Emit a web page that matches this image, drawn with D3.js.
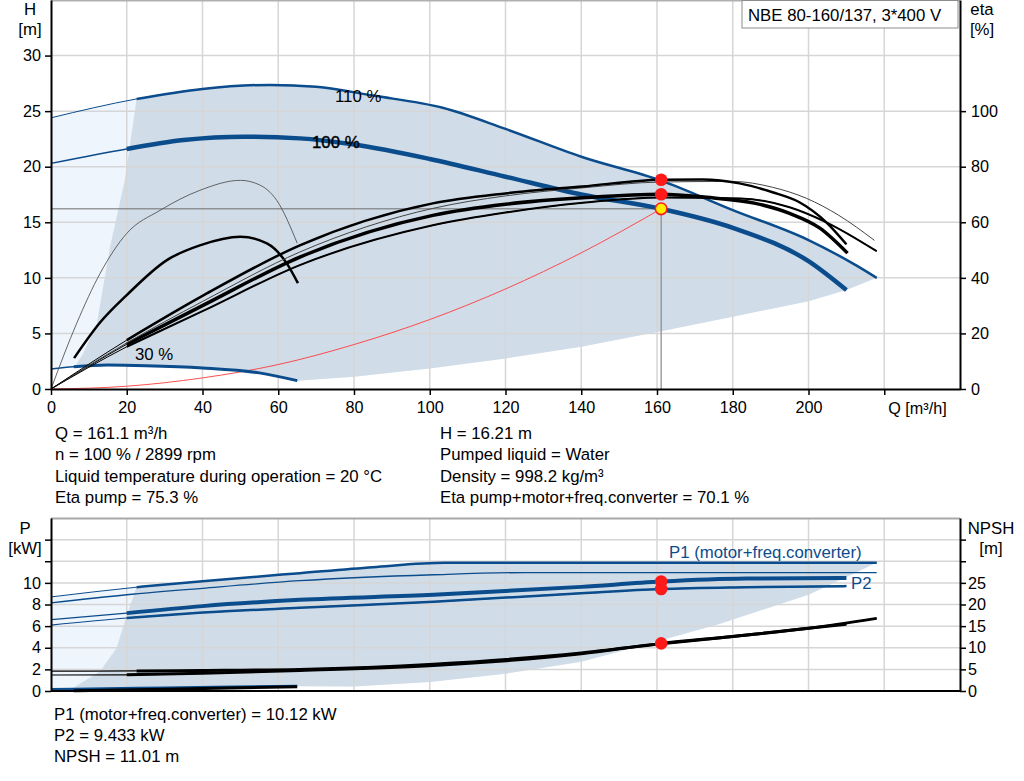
<!DOCTYPE html>
<html>
<head>
<meta charset="utf-8">
<script src="https://cdn.jsdelivr.net/npm/d3@7/dist/d3.min.js"></script>
<style>
body { margin: 0; background: #fff; }
svg { display: block; font-family: "Liberation Sans", Arial, sans-serif; }
</style>
</head>
<body>
<svg id="chart" width="1024" height="781"></svg>
<script>
/* curves, pairs of [Q m3/h, value] */
const h110 = [[0,24.4],[22.6,26.1],[40,27.0],[57.8,27.36],[70,27.2],[85,26.4],[103.4,25.3],[120,23.4],[140,20.9],[161.1,18.75],[180,16.1],[200,13.4],[212.7,11.1],[218,10.0]];
const h100 = [[0,20.3],[20,21.6],[35,22.4],[51,22.7],[65.7,22.55],[80,22.0],[100,20.7],[120,19.1],[140,17.5],[161.1,16.21],[180,14.5],[200,11.5],[210,8.9]];
const h30 = [[0,1.8],[6,2.0],[15,2.15],[25,2.1],[40,1.9],[55,1.45],[65,0.75]];

const etaPump100 = [[0,0],[20,17.6],[40,33.5],[65.7,51.7],[100.8,66.8],[120,70.4],[140.4,72.9],[161.1,75.3],[172,75.4],[181.8,74.0],[190.5,70.8],[197.6,67.2],[204.7,60.0],[210,52.1]];
const etaPump110 = [[0,0],[20,16.6],[40,31.5],[65.7,49.3],[100.8,65.0],[120,69.5],[140.4,72.4],[161.1,74.5],[180,74.7],[190.5,72.6],[199.5,68.6],[208,62.5],[217.4,53.5]];
const etaTot100 = [[0,0],[20,16.1],[40,30],[65.7,47.5],[100.8,62.5],[120,66.5],[140.4,68.8],[161.1,70.1],[173,69.0],[186,66.8],[195,63.2],[203,57.9],[210.3,48.9]];
const etaTot110 = [[0,0],[20,15.2],[40,28],[65.7,44.6],[100.8,58.9],[120,63.5],[140.4,67.0],[161.1,68.9],[182,68.6],[195,65.4],[204.7,60.0],[218,49.6]];
const etaPump30 = [[0,0],[6.8,23.7],[13,41.7],[20,56],[28.8,64.3],[39.3,71.5],[50,75.1],[55,73.5],[59.6,67.9],[65,52.5]];
const etaTot30 = [[6.1,11.1],[13,24],[20,33.8],[30.6,46.4],[39.3,51.7],[50,54.8],[57,52.4],[62.2,45.3],[65.2,38.1]];

const sysCurve = [[0,0],[20,0.25],[40,1.0],[60,2.2],[80,4.0],[100,6.25],[120,9.0],[140,12.25],[161.1,16.21]];

// edges of the shaded operating range
const areaTopLeft = [[6.3,2.0],[8.5,3.2],[12.1,5.9],[15.6,12.8],[19.5,18.8],[22.6,26.1]];
const areaTopLow = [[65,0.75],[80,1.1],[92,1.56],[100,1.85],[120,2.75],[140,3.8],[161.1,5.2],[180,6.5],[200,7.9],[210,8.9],[218,10.0]];

const p1_110 = [[0,8.7],[22.6,9.6],[40,10.15],[65.7,10.9],[85,11.45],[104,11.85],[150,11.85],[218,11.85]];
const p2_110 = [[0,8.15],[20,8.9],[40,9.5],[65.7,10.2],[101,10.75],[125,10.95],[218,10.95]];
const p1_100 = [[0,6.6],[20,7.2],[40,7.85],[65.7,8.43],[101,8.9],[140,9.63],[161.1,10.12],[183.6,10.4],[210,10.45]];
const p2_100 = [[0,6.1],[20,6.75],[40,7.25],[65.7,7.7],[101,8.25],[140,9.05],[161.1,9.433],[183.6,9.6],[210,9.7]];
const p30 = [[0,0.15],[6,0.17],[30,0.28],[65,0.45]];
const npsh110 = [[0,4.6],[22.6,4.65],[40,4.75],[65.7,5.0],[101,6.2],[140,8.8],[161.1,10.9],[180,12.6],[200,14.5],[218,16.8]];
const npsh100 = [[0,3.7],[20,3.75],[40,4.1],[65.7,4.75],[101,5.9],[140,8.6],[161.1,11.01],[180,12.6],[200,14.5],[210,15.45]];
const npsh30 = [[6,0.05],[30,0.4],[65,1.0]];

const areaBotLeft = [[5.8,0.28],[8.5,0.86],[12.9,1.8],[17.3,3.95],[20,7.0],[22.6,9.6]];
const areaBotLow = [[65,0.45],[80,0.42],[100,0.83],[120,1.6],[140,2.7],[161.1,4.7],[176.5,6.2],[200,8.9],[218,11.85]];

// duty point
const opQ = 161.1, opH = 16.21, opEtaPump = 75.3, opEtaTot = 70.1;
const opP1 = 10.12, opP2 = 9.433, opNpsh = 11.01;

const qTicks = [0,20,40,60,80,100,120,140,160,180,200,220];
const hTicks = [0,5,10,15,20,25,30];
const etaTicks = [0,20,40,60,80,100];
const pTicks = [0,2,4,6,8,10,12,14];
const npshTicks = [0,5,10,15,20,25,30,35];

const infoLeft = ['Q = 161.1 m³/h', 'n = 100 % / 2899 rpm', 'Liquid temperature during operation = 20 °C', 'Eta pump = 75.3 %'];
const infoRight = ['H = 16.21 m', 'Pumped liquid = Water', 'Density = 998.2 kg/m³', 'Eta pump+motor+freq.converter = 70.1 %'];
const infoBottom = ['P1 (motor+freq.converter) = 10.12 kW', 'P2 = 9.433 kW', 'NPSH = 11.01 m'];

const BLUE = '#0b4c8c';
const DARK = '#d0dce8';
const LIGHT = '#eef5fc';
const GRID = '#d6d6d6';
const FS = 16.8;   // label text
const TFS = 16.2;  // tick text

const svg = d3.select('#chart');

const x = d3.scaleLinear().domain([0, 240]).range([51, 960]);
const yH = d3.scaleLinear().domain([0, 35]).range([389, 0]);
const yEta = d3.scaleLinear().domain([0, 140]).range([389, 0]);
const yP = d3.scaleLinear().domain([0, 16]).range([691, 518]);
const yN = d3.scaleLinear().domain([0, 40]).range([691, 518]);

const lineOf = (ys) => d3.line().x(d => x(d[0])).y(d => ys(d[1])).curve(d3.curveMonotoneX);

// polygon: left edge, top curve, lower edge back, bottom curve back
const shadePoints = (left, topCurve, low, bottom, fromQ) => {
	let pts = [];
	if (left) pts = pts.concat(left);
	pts = pts.concat(topCurve.filter(d => d[0] > fromQ));
	pts = pts.concat(low.slice().reverse().slice(1));
	pts = pts.concat(bottom.filter(d => d[0] < 65 && (left ? d[0] > left[0][0] : true)).reverse());
	return pts;
};

const drawShade = (g, pts, ys, fill) => {
	g.append('path')
		.attr('d', d3.line().x(d => x(d[0])).y(d => ys(d[1]))(pts) + 'Z')
		.attr('fill', fill)
		.attr('stroke', 'none');
};

const drawCurve = (g, data, ys, color, thinW, thickW, fromQ) => {
	if (thinW > 0) {
		g.append('path').attr('d', lineOf(ys)(data))
			.attr('fill', 'none').attr('stroke', color).attr('stroke-width', thinW);
	}
	if (thickW > 0) {
		g.append('path').attr('d', lineOf(ys)(data.filter(d => d[0] >= fromQ)))
			.attr('fill', 'none').attr('stroke', color).attr('stroke-width', thickW);
	}
};

const styleAxis = (a) => {
	a.select('.domain').attr('stroke', '#000').attr('stroke-width', 2);
	a.selectAll('.tick line').attr('stroke', '#000').attr('stroke-width', 1.5);
	a.selectAll('.tick text').attr('font-size', TFS).attr('fill', '#000')
		.attr('font-family', '"Liberation Sans", Arial, sans-serif');
};

const label = (g, tx, ty, t, anchor) => g.append('text')
	.attr('x', tx).attr('y', ty).attr('font-size', FS)
	.attr('text-anchor', anchor || 'start').text(t);

/////////////////////////
// upper chart: H, eta //
/////////////////////////
const gTop = svg.append('g');

// shaded range
drawShade(gTop, shadePoints(null, h110, areaTopLow, h30, -1000), yH, LIGHT);
drawShade(gTop, shadePoints(areaTopLeft, h110, areaTopLow, h30, 22.6), yH, DARK);

// grid
gTop.selectAll('.vg').data(qTicks.slice(1)).enter().append('line')
	.attr('x1', d => x(d)).attr('x2', d => x(d)).attr('y1', 0).attr('y2', 389)
	.attr('stroke', GRID).attr('stroke-width', 1.5);
gTop.selectAll('.hg').data(hTicks.slice(1)).enter().append('line')
	.attr('x1', 51).attr('x2', 960).attr('y1', d => yH(d)).attr('y2', d => yH(d))
	.attr('stroke', GRID).attr('stroke-width', 1.5);
gTop.append('line').attr('x1', 51).attr('x2', 960).attr('y1', 0.75).attr('y2', 0.75)
	.attr('stroke', '#b0b0b0').attr('stroke-width', 1.5);

// system curve + duty point guides
gTop.append('path').attr('d', lineOf(yH)(sysCurve))
	.attr('fill', 'none').attr('stroke', '#ff3b3b').attr('stroke-width', 0.9);
gTop.append('line').attr('x1', x(0)).attr('x2', x(opQ)).attr('y1', yH(opH)).attr('y2', yH(opH))
	.attr('stroke', '#6e6e6e').attr('stroke-width', 1);
gTop.append('line').attr('x1', x(opQ)).attr('x2', x(opQ)).attr('y1', yH(opH)).attr('y2', yH(0))
	.attr('stroke', '#8a8a8a').attr('stroke-width', 1.2);

// head curves
drawCurve(gTop, h110, yH, BLUE, 1, 2.5, 22.6);
drawCurve(gTop, h100, yH, BLUE, 1.5, 4.5, 20);
drawCurve(gTop, h30, yH, BLUE, 1.5, 3, 6);

// efficiency curves
drawCurve(gTop, etaPump30, yEta, '#555', 0.9, 0, 0);
drawCurve(gTop, etaTot30, yEta, '#000', 0, 2.5, 0);
drawCurve(gTop, etaTot110, yEta, '#000', 1, 2, 20);
drawCurve(gTop, etaTot100, yEta, '#000', 1, 3.5, 20);
drawCurve(gTop, etaPump110, yEta, '#444', 1, 0, 0);
drawCurve(gTop, etaPump100, yEta, '#000', 1, 2.5, 20);

// curve labels
label(gTop, 335, 102, '110 %');
label(gTop, 312, 148, '100 %').attr('stroke', '#000').attr('stroke-width', 0.4);
label(gTop, 135, 360, '30 %');

// duty point markers
gTop.append('circle').attr('cx', x(opQ)).attr('cy', yEta(opEtaPump)).attr('r', 6.3).attr('fill', '#ff1a1a');
gTop.append('circle').attr('cx', x(opQ)).attr('cy', yEta(opEtaTot)).attr('r', 6.3).attr('fill', '#ff1a1a');
gTop.append('circle').attr('cx', x(opQ)).attr('cy', yH(opH)).attr('r', 5.8)
	.attr('fill', '#ffee00').attr('stroke', '#ff1a1a').attr('stroke-width', 1.6);

// axes
const axL = gTop.append('g').attr('transform', 'translate(51,0)')
	.call(d3.axisLeft(yH).tickValues(hTicks).tickSize(6).tickSizeOuter(0).tickPadding(4));
styleAxis(axL);
const axR = gTop.append('g').attr('transform', 'translate(960,0)')
	.call(d3.axisRight(yEta).tickValues(etaTicks).tickSize(6).tickSizeOuter(0).tickPadding(5));
styleAxis(axR);
const axB = gTop.append('g').attr('transform', 'translate(0,389)')
	.call(d3.axisBottom(x).tickValues(qTicks).tickSize(6).tickSizeOuter(0).tickPadding(6)
		.tickFormat(d => d === 220 ? '' : d));
styleAxis(axB);
label(gTop, x(220) + 4, 414, 'Q [m³/h]').attr('font-size', TFS);

label(gTop, 30, 15, 'H', 'middle');
label(gTop, 30, 35, '[m]', 'middle');
label(gTop, 982, 15, 'eta', 'middle');
label(gTop, 982, 35, '[%]', 'middle');

// title box
gTop.append('rect').attr('x', 742).attr('y', 0.5).attr('width', 216).attr('height', 27.5)
	.attr('fill', '#fff').attr('stroke', '#8c8c8c').attr('stroke-width', 1);
label(gTop, 748, 21, 'NBE 80-160/137, 3*400 V');

// info text
infoLeft.forEach((t, i) => label(svg, 55, 439 + i * 21.3, t));
infoRight.forEach((t, i) => label(svg, 440, 439 + i * 21.3, t));

////////////////////////////
// lower chart: P, NPSH   //
////////////////////////////
const gBot = svg.append('g');

drawShade(gBot, shadePoints(null, p1_110, areaBotLow, p30, -1000), yP, LIGHT);
drawShade(gBot, shadePoints(areaBotLeft, p1_110, areaBotLow, p30, 22.6), yP, DARK);

gBot.selectAll('.vg').data(qTicks.slice(1)).enter().append('line')
	.attr('x1', d => x(d)).attr('x2', d => x(d)).attr('y1', 518).attr('y2', 691)
	.attr('stroke', GRID).attr('stroke-width', 1.5);
gBot.selectAll('.hg').data(pTicks.slice(1)).enter().append('line')
	.attr('x1', 51).attr('x2', 960).attr('y1', d => yP(d)).attr('y2', d => yP(d))
	.attr('stroke', GRID).attr('stroke-width', 1.5);
gBot.append('line').attr('x1', 51).attr('x2', 960).attr('y1', 518.5).attr('y2', 518.5)
	.attr('stroke', '#a8a8a8').attr('stroke-width', 2);

drawCurve(gBot, p1_110, yP, BLUE, 1, 2.5, 22.6);
drawCurve(gBot, p2_110, yP, BLUE, 1.3, 0, 0);
drawCurve(gBot, p1_100, yP, BLUE, 1.2, 4, 20);
drawCurve(gBot, p2_100, yP, BLUE, 1.2, 2.5, 20);
drawCurve(gBot, p30, yP, BLUE, 0, 3, 0);
drawCurve(gBot, npsh30, yN, '#000', 0, 3, 0);
drawCurve(gBot, npsh110, yN, '#000', 1.2, 3, 22.6);
drawCurve(gBot, npsh100, yN, '#000', 1.2, 3, 20);

label(gBot, 669, 558, 'P1 (motor+freq.converter)').attr('fill', BLUE);
label(gBot, 851, 589, 'P2').attr('fill', BLUE);

gBot.append('circle').attr('cx', x(opQ)).attr('cy', yP(opP1)).attr('r', 6.3).attr('fill', '#ff1a1a');
gBot.append('circle').attr('cx', x(opQ)).attr('cy', yP(opP2)).attr('r', 6.3).attr('fill', '#ff1a1a');
gBot.append('circle').attr('cx', x(opQ)).attr('cy', yN(opNpsh)).attr('r', 6.3).attr('fill', '#ff1a1a');

const bL = gBot.append('g').attr('transform', 'translate(51,0)')
	.call(d3.axisLeft(yP).tickValues(pTicks).tickSize(6).tickSizeOuter(0).tickPadding(4)
		.tickFormat(d => d > 10 ? '' : d));
styleAxis(bL);
const bR = gBot.append('g').attr('transform', 'translate(960,0)')
	.call(d3.axisRight(yN).tickValues(npshTicks).tickSize(6).tickSizeOuter(0).tickPadding(2)
		.tickFormat(d => d > 25 ? '' : d));
styleAxis(bR);
gBot.append('line').attr('x1', 51).attr('x2', 960).attr('y1', 691).attr('y2', 691)
	.attr('stroke', '#000').attr('stroke-width', 2);

label(gBot, 25, 534, 'P', 'middle');
label(gBot, 25, 554, '[kW]', 'middle');
label(gBot, 991, 534, 'NPSH', 'middle');
label(gBot, 991, 554, '[m]', 'middle');

infoBottom.forEach((t, i) => label(svg, 54, 720 + i * 21, t));
</script>
</body>
</html>
